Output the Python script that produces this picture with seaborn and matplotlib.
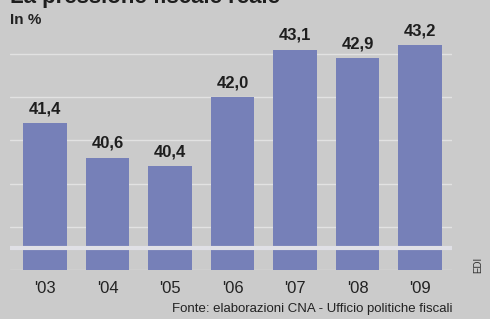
import matplotlib
matplotlib.use("Agg")
import matplotlib.pyplot as plt
import seaborn as sns
import pandas as pd

# Data
years = ["'03", "'04", "'05", "'06", "'07", "'08", "'09"]
pressione = [41.4, 40.6, 40.4, 42.0, 43.1, 42.9, 43.2]
labels = ["41,4", "40,6", "40,4", "42,0", "43,1", "42,9", "43,2"]

df = pd.DataFrame({"anno": years, "pressione": pressione})

bg = "#cbcbcb"
bar_color = "#7680b8"

sns.set_style("white")
plt.rcParams["font.family"] = ["Liberation Sans", "DejaVu Sans"]

fig = plt.figure(figsize=(4.9, 3.19), dpi=100, facecolor=bg)
ax = fig.add_axes([10 / 490, 1 - 270 / 319, 442 / 490, 230 / 319])
ax.set_facecolor(bg)

sns.barplot(data=df, x="anno", y="pressione", color=bar_color, width=0.7,
            saturation=1, linewidth=0, ax=ax, zorder=2)

ax.set_xlim(-0.56, 6.51)
ax.set_ylim(38, 43.32)

# light gridlines behind bars
for v in [38, 39, 40, 41, 42, 43]:
    ax.axhline(v, color="#e2e2e2", lw=1.0, zorder=1)
# axis break band across the bars
ax.axhline(38.5, color="#e0e0e6", lw=3, zorder=3)

ax.bar_label(ax.containers[0], labels=labels, padding=5, fontsize=12,
             fontweight="bold", color="#1e1e1e", clip_on=False)

ax.set_xlabel("")
ax.set_ylabel("")
ax.set_yticks([])
ax.tick_params(axis="x", length=0, pad=8, labelsize=12, labelcolor="#222222")
for s in ax.spines.values():
    s.set_visible(False)

fig.text(10 / 490, 1 - 3 / 319, "La pressione fiscale reale", fontsize=16,
         fontweight="bold", color="#1e1e1e", va="baseline", ha="left")
fig.text(10 / 490, 1 - 20 / 319, "In %", fontsize=11, fontweight="bold",
         color="#222222", va="center", ha="left")
fig.text(452 / 490, 1 - 309 / 319,
         "Fonte: elaborazioni CNA - Ufficio politiche fiscali",
         fontsize=9.5, color="#222222", va="center", ha="right")
fig.text(478 / 490, 1 - 265 / 319, "EDI", fontsize=7, rotation=90,
         color="#333333", va="center", ha="center")

fig.savefig("out.png", dpi=100, facecolor=bg)
